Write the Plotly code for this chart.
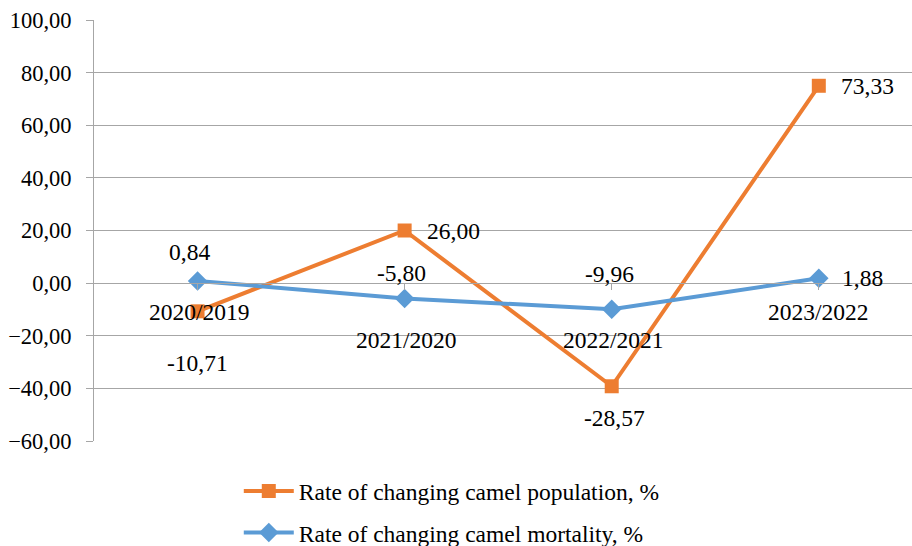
import plotly.graph_objects as go

categories = ["2020/2019", "2021/2020", "2022/2021", "2023/2022"]
population = [-10.71, 20.0, -39.2, 75.0]
population_labels = ["-10,71", "26,00", "-28,57", "73,33"]
mortality = [0.84, -5.80, -9.96, 1.88]
mortality_labels = ["0,84", "-5,80", "-9,96", "1,88"]
y_ticks = [-60, -40, -20, 0, 20, 40, 60, 80, 100]

ORANGE = "#ED7D31"
BLUE = "#5B9BD5"
GRID = "#A6A6A6"
FONT = "'Liberation Serif', 'Times New Roman', 'DejaVu Serif', serif"
FS = 23.5
FS_Y = 22.5

xs = list(range(len(categories)))

fig = go.Figure()
fig.add_trace(go.Scatter(
    x=xs, y=population, mode="lines+markers",
    name="Rate of changing camel population, %",
    line=dict(color=ORANGE, width=4),
    marker=dict(symbol="square", size=14, color=ORANGE),
    legendgroup="a",
))
fig.add_trace(go.Scatter(
    x=xs, y=mortality, mode="lines+markers",
    name="Rate of changing camel mortality, %",
    line=dict(color=BLUE, width=4),
    marker=dict(symbol="diamond", size=15, color=BLUE),
    legendgroup="b",
))

annotations = []
pop_shift = [(0, -52), (49, 0), (3, -32), (49, 0)]
mor_shift = [(-8, 29), (-3, 25), (-2, 35), (44, 0)]
for i in xs:
    dx, dy = pop_shift[i]
    annotations.append(dict(x=i, y=population[i], text=population_labels[i],
                            xshift=dx, yshift=dy, showarrow=False,
                            font=dict(family=FONT, size=FS, color="black")))
    dx, dy = mor_shift[i]
    annotations.append(dict(x=i, y=mortality[i], text=mortality_labels[i],
                            xshift=dx, yshift=dy, showarrow=False,
                            font=dict(family=FONT, size=FS, color="black")))
cat_shift = [(2, -29), (2, -57), (2, -57), (0, -29)]
for i in xs:
    dx, dy = cat_shift[i]
    annotations.append(dict(x=i, y=0, text=categories[i], xshift=dx, yshift=dy,
                            showarrow=False,
                            font=dict(family=FONT, size=FS, color="black")))

fig.update_layout(
    width=912, height=546,
    margin=dict(l=94, r=0, t=20, b=105, autoexpand=False),
    paper_bgcolor="white", plot_bgcolor="white",
    font=dict(family=FONT, size=FS, color="black"),
    separators=", ",
    annotations=annotations,
    showlegend=True,
    hovermode=False,
    legend=dict(
        orientation="v", x=0.177, xanchor="left", y=-0.067, yanchor="top",
        font=dict(family=FONT, size=FS, color="black"),
        traceorder="grouped", tracegroupgap=8,
        itemwidth=50,
        bgcolor="rgba(0,0,0,0)",
    ),
    xaxis=dict(
        range=[-0.5, 3.45], anchor="free", position=0.375, automargin=False,
        showgrid=False, zeroline=False, showline=True, linecolor=GRID, linewidth=1,
        ticks="outside", tickson="boundaries", ticklen=6, tickcolor=GRID,
        tickvals=xs, ticktext=["" for _ in xs], showticklabels=False,
    ),
    yaxis=dict(
        range=[-60, 100], tickvals=y_ticks, tickformat=".2f", automargin=False,
        showgrid=True, gridcolor=GRID, gridwidth=1, zeroline=False,
        showline=True, linecolor=GRID, linewidth=1,
        ticks="outside", ticklen=7, tickcolor=GRID,
        ticklabelstandoff=10, ticklabeloverflow="allow",
        tickfont=dict(family=FONT, size=FS_Y, color="black"),
    ),
)

fig.write_html("out.html", config={"displayModeBar": False},
               post_script="document.body.style.margin='0px';")
